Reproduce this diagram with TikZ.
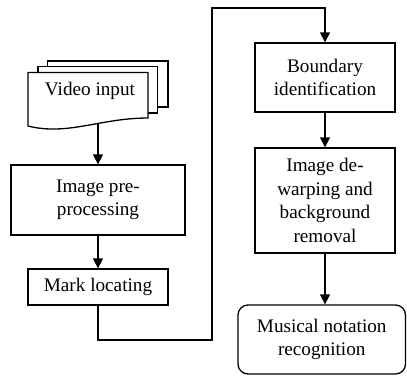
\documentclass[tikz,border=0pt]{standalone}
\usepackage{fontspec}
\setmainfont{Liberation Serif}
\usetikzlibrary{arrows.meta}
\begin{document}
\begin{tikzpicture}[x=1pt,y=-1pt, line width=1.3pt,
  txt/.style={font=\fontsize{19.2}{23.5}\selectfont},
  box/.style={draw, align=center, inner sep=0pt, txt},
  page/.style={draw, fill=white, line join=miter},
  arr/.style={-{Triangle[length=10pt,width=10pt]}}]
\useasboundingbox (0,0) rectangle (407,376);
% document stack
\draw[page] (47.5,61) rectangle (168,107);
\draw[page] (38,66.5) rectangle (157.5,113);
\draw[page] (28,126) -- (28,72.5) -- (148,72.5) -- (148,118)
  .. controls (100,118) and (68,136) .. (28,126) -- cycle;
\node[txt, anchor=base] (vid) at (90,95) {Video input};
\coordinate (docb) at (98,124);
% boxes
\node[box, minimum width=174pt, minimum height=70pt] (pre) at (98,200) {Image pre-\\processing};
\node[box, minimum width=140pt, minimum height=36pt] (mark) at (98,287) {Mark locating};
\node[box, minimum width=140pt, minimum height=69pt] (bound) at (325,77.5) {Boundary\\identification};
\node[box, minimum width=140pt, minimum height=105pt] (dew) at (325,200.5) {Image de-\\warping and\\background\\removal};
\node[box, rounded corners=10pt, minimum width=167.5pt, minimum height=69pt] (mus) at (321.75,339.5) {Musical notation\\recognition};
% connectors
\coordinate (c1) at (212,340);
\coordinate (c2) at (212,8);
\draw[arr] (docb) -- (pre.north);
\draw[arr] (pre.south) -- (mark.north);
\draw[arr] (mark.south) |- (c1) -- (c2) -| (bound.north);
\draw[arr] (bound.south) -- (dew.north);
\draw[arr] (dew.south) -- (dew.south |- mus.north);
\end{tikzpicture}
\end{document}
